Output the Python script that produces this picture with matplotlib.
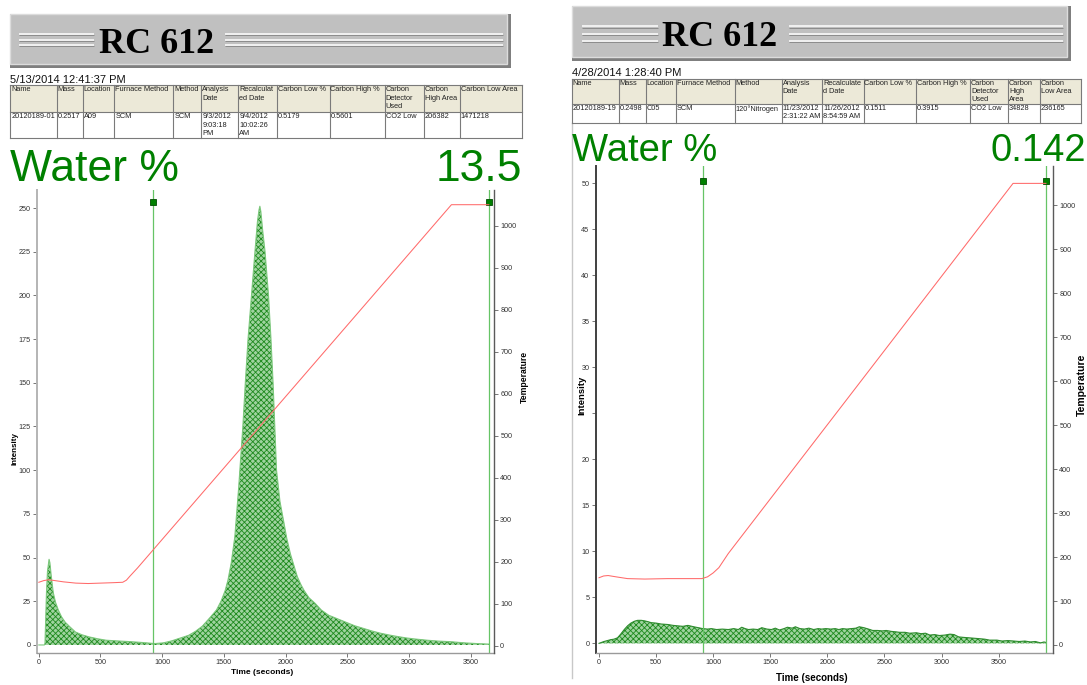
import matplotlib
matplotlib.use('Agg')
import matplotlib.pyplot as plt
from matplotlib.patches import Rectangle

plt.rcParams['font.family'] = ['Liberation Sans', 'DejaVu Sans']
plt.rcParams['hatch.linewidth'] = 0.6

W, H = 1087, 685

# ---------------- data: panel (a) ----------------
time_a = [0, 45, 50, 62, 70, 83, 90, 100, 117, 135,
          158, 185, 214, 250, 297, 350, 408, 480, 547, 640,
          742, 840, 939, 1010, 1075, 1140, 1214, 1270, 1325, 1392,
          1440, 1477, 1510, 1533, 1560, 1589, 1620, 1654, 1674, 1696,
          1724, 1752, 1772, 1785, 1792, 1800, 1815, 1834, 1862, 1882,
          1899, 1913, 1927, 1955, 1983, 2010, 2040, 2070, 2096, 2125,
          2152, 2190, 2237, 2290, 2350, 2420, 2490, 2560, 2630, 2700,
          2771, 2840, 2911, 2980, 3052, 3150, 3240, 3333, 3450, 3550,
          3615, 3648]
intensity_a = [0, 0, 1, 30, 42, 49, 47, 40, 30, 24.5,
               20, 16, 13, 10.5, 7.4, 5.8, 4.6, 3.5, 2.7, 2.3,
               1.9, 1.4, 0.8, 1.2, 2.3, 3.8, 5.5, 7.8, 10.7, 16,
               20, 25, 31, 37, 47, 62, 90, 125, 150, 175,
               200, 225, 242, 249, 251, 248, 237, 225, 200, 175,
               150, 125, 100, 82, 71.5, 61, 52, 45, 39, 34.5,
               31, 27, 24, 20, 17, 15, 13, 11, 9.5, 8,
               6.7, 5.7, 4.8, 4, 3.4, 2.7, 2.2, 1.9, 1.2, 0.8,
               0.6, 0.5]
temp_time_a = [0, 40, 80, 130, 200, 300, 400, 500, 600, 680, 710, 740, 800, 3345, 3648]
temp_a = [151, 155, 157, 155, 152, 149, 148, 149, 150, 151, 156, 166, 185, 1050, 1050]
markers_a = [928, 3648]
yticks_a = list(range(0, 251, 25))
ylabels_a = [str(v) for v in yticks_a]

# ---------------- data: panel (b) ----------------
time_b = [0, 44, 103, 130, 162, 190, 221, 250, 279, 310,
          338, 370, 397, 430, 456, 500, 544, 600, 650, 691,
          735, 779, 830, 870, 909, 950, 985, 1030, 1080, 1132,
          1180, 1220, 1250, 1280, 1309, 1350, 1390, 1426, 1470, 1510,
          1544, 1580, 1620, 1650, 1691, 1720, 1760, 1800, 1838, 1880,
          1920, 1950, 1985, 2030, 2070, 2100, 2132, 2170, 2210, 2250,
          2279, 2320, 2360, 2397, 2440, 2480, 2515, 2560, 2600, 2632,
          2680, 2720, 2779, 2820, 2860, 2897, 2940, 2980, 3030, 3074,
          3110, 3150, 3191, 3240, 3290, 3338, 3380, 3420, 3485, 3530,
          3580, 3632, 3680, 3730, 3779, 3820, 3868, 3897, 3914]
intensity_b = [0, 0.2, 0.4, 0.45, 0.6, 1.0, 1.5, 1.9, 2.2, 2.4,
               2.5, 2.5, 2.45, 2.35, 2.25, 2.2, 2.1, 2.05, 1.95, 1.9,
               1.85, 1.95, 1.8, 1.7, 1.6, 1.55, 1.6, 1.5, 1.55, 1.5,
               1.6, 1.5, 1.75, 1.6, 1.5, 1.55, 1.5, 1.7, 1.55, 1.5,
               1.65, 1.45, 1.6, 1.75, 1.65, 1.8, 1.6, 1.55, 1.65, 1.5,
               1.6, 1.55, 1.6, 1.55, 1.6, 1.5, 1.6, 1.55, 1.6, 1.65,
               1.8, 1.7, 1.55, 1.4, 1.4, 1.35, 1.4, 1.3, 1.25, 1.2,
               1.2, 1.1, 1.15, 1.05, 1.1, 0.9, 0.95, 0.85, 0.9, 1.0,
               0.95, 0.7, 0.65, 0.6, 0.55, 0.5, 0.45, 0.35, 0.35, 0.25,
               0.3, 0.25, 0.2, 0.25, 0.15, 0.2, 0.05, 0.15, 0.1]
temp_time_b = [0, 40, 80, 150, 250, 400, 600, 800, 900, 950, 1000, 1050, 1132, 3626, 3914]
temp_b = [153, 157, 158, 155, 151, 150, 151, 151, 151, 155, 164, 176, 208, 1050, 1050]
markers_b = [908, 3914]
yticks_b = list(range(0, 51, 5))
# the "25" label is hidden under the axis title in the reference
ylabels_b = ['' if v == 25 else str(v) for v in yticks_b]

# ---------------- table texts ----------------
header_a = ["Name", "Mass", "Location", "Furnace Method", "Method", "Analysis\nDate",
            "Recalculat\ned Date", "Carbon Low %", "Carbon High %", "Carbon\nDetector\nUsed",
            "Carbon\nHigh Area", "Carbon Low Area"]
row_a = ["20120189-01", "0.2517", "A09", "SCM", "SCM", "9/3/2012\n9:03:18\nPM",
         "9/4/2012\n10:02:26\nAM", "0.5179", "0.5601", "CO2 Low", "206382", "1471218"]
header_b = ["Name", "Mass", "Location", "Furnace Method", "Method", "Analysis\nDate",
            "Recalculate\nd Date", "Carbon Low %", "Carbon High %", "Carbon\nDetector\nUsed",
            "Carbon\nHigh\nArea", "Carbon\nLow Area"]
row_b = ["20120189-19", "0.2498", "C05", "SCM", "120°Nitrogen", "11/23/2012\n2:31:22 AM",
         "11/26/2012\n8:54:59 AM", "0.1511", "0.3915", "CO2 Low", "34828", "236165"]


def px_rect(l, t, r, b):
    return [l / W, 1 - b / H, (r - l) / W, (b - t) / H]


fig = plt.figure(figsize=(W / 100, H / 100), dpi=100)
ov = fig.add_axes([0, 0, 1, 1])
ov.set_xlim(0, W)
ov.set_ylim(H, 0)
ov.axis('off')


def banner(x0, y0, x1, y1, tx, ty, left_lines, right_lines, line_ys):
    ov.add_patch(Rectangle((x0, y0), x1 - x0, y1 - y0, facecolor='#7f7f7f', edgecolor='none'))
    ov.add_patch(Rectangle((x0, y0), x1 - x0 - 4, y1 - y0 - 4, facecolor='#c0c0c0',
                           edgecolor='#dcdcdc', linewidth=1))
    for y in line_ys:
        for xs in (left_lines, right_lines):
            ov.plot(xs, [y, y], color='#f5f5f5', lw=1.3, solid_capstyle='butt')
            ov.plot(xs, [y + 1.3, y + 1.3], color='#8c8c8c', lw=0.7, solid_capstyle='butt')
    ov.text(tx, ty, 'RC 612', family='Liberation Serif', fontweight='bold', fontsize=26,
            ha='center', va='baseline', color='black')


def table(cols, y0, y1, y2, header, row, step):
    ov.add_patch(Rectangle((cols[0], y0), cols[-1] - cols[0], y1 - y0, facecolor='#ece9d8',
                           edgecolor='none'))
    for y in (y0, y1, y2):
        ov.plot([cols[0], cols[-1]], [y, y], color='#7a7a7a', lw=0.8)
    for x in cols:
        ov.plot([x, x], [y0, y2], color='#7a7a7a', lw=0.8)
    for i in range(len(header)):
        for k, line in enumerate(header[i].split('\n')):
            ov.text(cols[i] + 1, y0 + 1 + k * step, line, fontsize=5.3, va='top', color='#222222')
        for k, line in enumerate(row[i].split('\n')):
            ov.text(cols[i] + 1, y1 + 1 + k * step, line, fontsize=5.3, va='top', color='#222222')


def chart(box, xlim, ylim, tlim, yticks, ylabels, t, inten, tt, temp, marks, mark_y,
          edge, spine_l):
    ax = fig.add_axes(px_rect(*box))
    ax.fill_between(t, inten, 0, facecolor='#9fd39f', edgecolor='#1f8a1f', hatch='xxxxxx',
                    linewidth=0)
    ax.plot(t, inten, color=edge, lw=0.8)
    for m in marks:
        ax.axvline(m, color='#66c466', lw=0.9)
        ax.plot([m], [mark_y], marker='s', ms=5, mfc='#008000', mec='#004d00', mew=0.6,
                transform=ax.get_xaxis_transform(), clip_on=False)
    ax.set_xlim(*xlim)
    ax.set_ylim(*ylim)
    ax.set_xticks(range(0, 3501, 500))
    ax.set_yticks(yticks)
    ax.set_yticklabels(ylabels)
    ax2 = ax.twinx()
    ax2.plot(tt, temp, color='#ff6a6a', lw=0.75)
    ax2.set_ylim(*tlim)
    ax2.set_yticks(range(0, 1001, 100))
    for a in (ax, ax2):
        a.tick_params(direction='out', length=3, width=0.6, color='#606060',
                      labelsize=5.2, labelcolor='#333333', pad=1.5)
        for s in a.spines.values():
            s.set_visible(False)
    ax.spines['left'].set_visible(True)
    ax.spines['left'].set_color(spine_l)
    ax.spines['left'].set_linewidth(1.4)
    ax.spines['bottom'].set_visible(True)
    ax.spines['bottom'].set_color('#9a9a9a')
    ax.spines['bottom'].set_linewidth(1.0)
    ax2.spines['right'].set_visible(True)
    ax2.spines['right'].set_color('#5a5a5a')
    ax2.spines['right'].set_linewidth(1.0)
    return ax


# ---------------- panel (a) ----------------
banner(10, 14, 511, 68, 157, 53, [19, 94], [225, 503], [34, 39.5, 45])
ov.text(10, 83, '5/13/2014 12:41:37 PM', fontsize=8, va='baseline', color='#111111')
table([10.3, 56.8, 82.6, 114.3, 173.2, 201.4, 238.3, 277.2, 329.5, 384.6, 423.6, 459.7, 521.7],
      85, 112, 138, header_a, row_a, 8.5)
ov.text(10, 181, 'Water %', fontsize=32, color='#008000', va='baseline')
ov.text(522, 181, '13.5', fontsize=32, color='#008000', va='baseline', ha='right')
chart((36.6, 190, 494, 653), (-18, 3690), (-4.6, 260.3), (-17.4, 1085),
      yticks_a, ylabels_a, time_a, intensity_a, temp_time_a, temp_a, markers_a, 0.975,
      '#7cc87c', '#b4b4b4')
ov.text(15, 448, 'Intensity', fontsize=5.8, fontweight='bold', rotation=90,
        ha='center', va='center')
ov.text(524, 377, 'Temperature', fontsize=6.2, fontweight='bold', rotation=90,
        ha='center', va='center')
ov.text(262, 673, 'Time (seconds)', fontsize=6, fontweight='bold', ha='center', va='center')
ov.text(418, 546, '(a)', family='Open Sans', fontsize=10, ha='center', va='center',
        color='#222222')

# ---------------- panel (b) ----------------
ov.plot([572, 572], [123, 678], color='#c8c8c8', lw=1)
banner(572, 6, 1071, 61, 720, 45.5, [582, 657.5], [788.6, 1062.5], [26.2, 33.6, 41])
ov.text(572, 75.6, '4/28/2014 1:28:40 PM', fontsize=8, va='baseline', color='#111111')
table([571.8, 618.8, 645.7, 676, 734.8, 781.8, 822.2, 863.5, 915.6, 970, 1008, 1040, 1081],
      79, 104, 122.7, header_b, row_b, 8.2)
ov.text(572, 161, 'Water %', fontsize=27.5, color='#008000', va='baseline')
ov.text(1086, 161, '0.142', fontsize=27.5, color='#008000', va='baseline', ha='right')
chart((595.7, 165.8, 1053, 653), (-29, 3976), (-1.05, 51.9), (-18.2, 1090),
      yticks_b, ylabels_b, time_b, intensity_b, temp_time_b, temp_b, markers_b, 0.968,
      '#2e8b2e', '#404040')
ov.text(582, 395, 'Intensity', fontsize=6.8, fontweight='bold', rotation=90,
        ha='center', va='center')
ov.text(1082, 385, 'Temperature', fontsize=7.5, fontweight='bold', rotation=90,
        ha='center', va='center')
ov.text(812, 678, 'Time (seconds)', fontsize=7, fontweight='bold', ha='center', va='center')
ov.text(983, 575, '(b)', family='Liberation Mono', fontsize=11, ha='center', va='center',
        color='#222222')

fig.savefig('out.png', dpi=100)
